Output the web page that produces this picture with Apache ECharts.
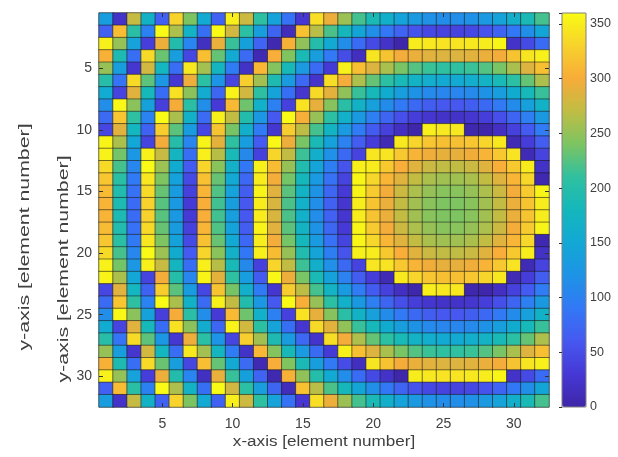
<!DOCTYPE html>
<html><head><meta charset="utf-8">
<script src="https://cdn.jsdelivr.net/npm/echarts@6/dist/echarts.min.js"></script>
<style>html,body{margin:0;padding:0;background:#fff}#c{width:618px;height:457px}</style>
</head><body><div id="c"></div>
<script>
// categories (element numbers)
const xCategories = [1,2,3,4,5,6,7,8,9,10,11,12,13,14,15,16,17,18,19,20,21,22,23,24,25,26,27,28,29,30,31,32];
const yCategories = [1,2,3,4,5,6,7,8,9,10,11,12,13,14,15,16,17,18,19,20,21,22,23,24,25,26,27,28,29,30,31,32];
const xTickLabels = [5,10,15,20,25,30];
const yTickLabels = [5,10,15,20,25,30];
const colorbarTicks = [0,50,100,150,200,250,300,350];

// phase values [deg], one array per row (row 1 at top), columns 1..32
const row01 = [135,22,273,168,68,331,240,152,69,351,277,208,143,84,29,339,294,254,218,188,163,143,128,118,113,113,118,128,143,163,188,218];
const row02 = [68,314,205,100,359,262,170,82,359,280,206,136,72,12,317,267,221,181,146,116,90,70,55,45,40,40,45,55,70,90,116,146];
const row03 = [352,251,141,35,294,197,104,16,292,213,139,70,5,305,249,199,154,113,78,47,22,2,350,346,343,343,346,350,356,22,47,78];
const row04 = [305,191,81,335,233,136,43,315,231,152,77,7,302,242,187,136,91,50,15,344,319,298,293,288,285,285,288,293,298,319,344,352];
const row05 = [251,136,26,279,177,80,347,258,174,94,20,310,244,184,128,78,32,352,316,285,260,239,224,214,209,209,214,224,239,260,285,316];
const row06 = [201,86,335,228,126,28,295,206,122,42,327,257,191,131,75,24,338,298,262,231,206,185,170,160,154,154,160,170,185,206,231,262];
const row07 = [155,40,288,182,79,341,247,158,74,354,279,208,143,82,26,335,289,249,213,182,156,136,120,110,105,105,110,120,136,156,182,213];
const row08 = [113,358,247,140,37,299,205,115,31,311,235,165,99,38,342,291,245,204,168,138,112,91,76,66,60,60,66,76,91,112,138,168];
const row09 = [77,321,209,102,359,261,167,77,352,272,197,126,60,359,303,252,206,165,129,98,72,52,36,26,21,21,26,36,52,72,98,129];
const row10 = [44,288,177,69,326,227,133,44,319,238,163,92,26,325,269,218,171,130,94,63,38,17,1,351,346,346,3,1,17,38,63,94];
const row11 = [355,261,149,41,298,199,105,355,290,209,134,63,357,295,239,188,142,101,65,34,8,347,332,321,316,316,321,332,347,8,34,65];
const row12 = [353,237,125,352,274,175,81,351,266,185,109,38,332,271,215,163,117,76,40,345,343,322,307,296,291,291,296,307,322,343,9,40];
const row13 = [335,219,107,359,255,156,62,332,246,166,90,352,313,251,195,144,97,56,352,349,323,302,287,276,271,271,276,287,302,323,349,20];
const row14 = [321,205,92,345,241,142,47,317,232,151,75,350,298,237,181,130,83,41,356,334,308,287,272,261,256,256,261,272,287,308,334,5];
const row15 = [312,195,83,335,232,132,38,308,223,141,65,354,288,227,171,120,73,31,355,324,298,277,262,251,246,246,251,262,277,298,324,355];
const row16 = [307,190,78,330,226,127,32,302,217,136,60,349,283,221,165,114,68,26,350,319,293,272,257,246,241,241,246,257,272,293,319,350];
const row17 = [307,190,78,330,226,127,32,302,217,136,60,349,283,221,165,114,68,26,350,319,293,272,257,246,241,241,246,257,272,293,319,350];
const row18 = [312,195,83,335,232,132,38,308,223,141,65,354,288,227,171,120,73,31,355,324,298,277,262,251,246,246,251,262,277,298,324,355];
const row19 = [321,205,92,345,241,142,47,317,232,151,75,350,298,237,181,130,83,41,356,334,308,287,272,261,256,256,261,272,287,308,334,5];
const row20 = [335,219,107,359,255,156,62,332,246,166,90,352,313,251,195,144,97,56,352,349,323,302,287,276,271,271,276,287,302,323,349,20];
const row21 = [353,237,125,352,274,175,81,351,266,185,109,38,332,271,215,163,117,76,40,345,343,322,307,296,291,291,296,307,322,343,9,40];
const row22 = [355,261,149,41,298,199,105,355,290,209,134,63,357,295,239,188,142,101,65,34,8,347,332,321,316,316,321,332,347,8,34,65];
const row23 = [44,288,177,69,326,227,133,44,319,238,163,92,26,325,269,218,171,130,94,63,38,17,1,351,346,346,3,1,17,38,63,94];
const row24 = [77,321,209,102,359,261,167,77,352,272,197,126,60,359,303,252,206,165,129,98,72,52,36,26,21,21,26,36,52,72,98,129];
const row25 = [113,358,247,140,37,299,205,115,31,311,235,165,99,38,342,291,245,204,168,138,112,91,76,66,60,60,66,76,91,112,138,168];
const row26 = [155,40,288,182,79,341,247,158,74,354,279,208,143,82,26,335,289,249,213,182,156,136,120,110,105,105,110,120,136,156,182,213];
const row27 = [201,86,335,228,126,28,295,206,122,42,327,257,191,131,75,24,338,298,262,231,206,185,170,160,154,154,160,170,185,206,231,262];
const row28 = [251,136,26,279,177,80,347,258,174,94,20,310,244,184,128,78,32,352,316,285,260,239,224,214,209,209,214,224,239,260,285,316];
const row29 = [305,191,81,335,233,136,43,315,231,152,77,7,302,242,187,136,91,50,15,344,319,298,293,288,285,285,288,293,298,319,344,352];
const row30 = [352,251,141,35,294,197,104,16,292,213,139,70,5,305,249,199,154,113,78,47,22,2,350,346,343,343,346,350,356,22,47,78];
const row31 = [68,314,205,100,359,262,170,82,359,280,206,136,72,12,317,267,221,181,146,116,90,70,55,45,40,40,45,55,70,90,116,146];
const row32 = [135,22,273,168,68,331,240,152,69,351,277,208,143,84,29,339,294,254,218,188,163,143,128,118,113,113,118,128,143,163,188,218];

const rows = [row01,row02,row03,row04,row05,row06,row07,row08,row09,row10,row11,row12,row13,row14,row15,row16,
              row17,row18,row19,row20,row21,row22,row23,row24,row25,row26,row27,row28,row29,row30,row31,row32];

const cells = [];
rows.forEach((row, r) => row.forEach((v, c) => cells.push([c, r, v])));

const parula = ['#3e26a8','#4638d5','#4658f0','#3278f6','#1e93e6','#12a8d5','#14b7bc','#2fc0a0','#7cc462','#bfbd44','#f8ab39','#f7d22c','#f9fb14'];
const FONT = '"Liberation Sans", Arial, Helvetica, sans-serif';
const TXT = '#404040';

const xShow = (i, v) => xTickLabels.indexOf(Number(v)) >= 0;
const yShow = (i, v) => yTickLabels.indexOf(Number(v)) >= 0;

const chart = echarts.init(document.getElementById('c'), null, {renderer: 'canvas'});
chart.setOption({
  animation: false,
  backgroundColor: '#ffffff',
  textStyle: {fontFamily: FONT},
  grid: [
    {left: 99, top: 13, width: 450, height: 394, show: true, borderColor: '#a0a0a0', borderWidth: 1, backgroundColor: 'transparent', containLabel: false},
    {left: 562, top: 13, width: 24, height: 394, show: true, borderColor: '#808080', borderWidth: 1, backgroundColor: 'transparent', z: 10}
  ],
  xAxis: [
    {type: 'category', gridIndex: 0, data: xCategories, position: 'bottom', z: 5,
     axisLine: {show: false},
     axisTick: {show: true, inside: true, length: 4, alignWithLabel: true, interval: xShow, lineStyle: {color: '#333'}},
     axisLabel: {show: true, interval: xShow, fontSize: 14, color: TXT, margin: 10, fontFamily: FONT},
     splitLine: {show: false}},
    {type: 'category', gridIndex: 0, data: xCategories, position: 'top', z: 5,
     axisLine: {show: false},
     axisTick: {show: true, inside: true, length: 4, alignWithLabel: true, interval: xShow, lineStyle: {color: '#333'}},
     axisLabel: {show: false}, splitLine: {show: false}},
    {type: 'value', gridIndex: 1, min: 0, max: 1, show: false}
  ],
  yAxis: [
    {type: 'category', gridIndex: 0, data: yCategories, inverse: true, position: 'left', z: 5,
     axisLine: {show: false},
     axisTick: {show: true, inside: true, length: 4, alignWithLabel: true, interval: yShow, lineStyle: {color: '#333'}},
     axisLabel: {show: true, interval: yShow, fontSize: 14, color: TXT, margin: 7, fontFamily: FONT},
     splitLine: {show: false}},
    {type: 'category', gridIndex: 0, data: yCategories, inverse: true, position: 'right', z: 5,
     axisLine: {show: false},
     axisTick: {show: true, inside: true, length: 4, alignWithLabel: true, interval: yShow, lineStyle: {color: '#333'}},
     axisLabel: {show: false}, splitLine: {show: false}},
    {type: 'value', gridIndex: 1, min: 0, max: 360, interval: 50, position: 'right', z: 12,
     axisLine: {show: false},
     axisTick: {show: true, inside: true, length: 3, lineStyle: {color: '#333'}},
     axisLabel: {show: true, fontSize: 12.5, color: TXT, margin: 4, fontFamily: FONT,
                 formatter: v => (colorbarTicks.indexOf(v) >= 0 ? String(v) : '')},
     splitLine: {show: false}}
  ],
  visualMap: {
    type: 'continuous', min: 0, max: 360, dimension: 2, seriesIndex: 0,
    orient: 'vertical', left: 557, top: 8, padding: 5,
    itemWidth: 24, itemHeight: 394, calculable: false, hoverLink: false,
    text: null, showLabel: false,
    inRange: {color: parula}
  },
  series: [{
    type: 'heatmap', xAxisIndex: 0, yAxisIndex: 0, data: cells,
    itemStyle: {borderColor: 'rgba(25,25,25,0.55)', borderWidth: 1},
    emphasis: {disabled: true}, progressive: 0
  }],
  graphic: [
    {type: 'text', x: 324, y: 442, scaleX: 1.22, style: {text: 'x-axis [element number]', font: '14px ' + FONT, fill: TXT, align: 'center', verticalAlign: 'middle'}},
    {type: 'text', x: 25, y: 237, rotation: Math.PI / 2, scaleX: 1.52, style: {text: 'y-axis [element number]', font: '14px ' + FONT, fill: TXT, align: 'center', verticalAlign: 'middle'}},
    {type: 'text', x: 64, y: 269, rotation: Math.PI / 2, scaleX: 1.52, style: {text: 'y-axis [element number]', font: '14px ' + FONT, fill: TXT, align: 'center', verticalAlign: 'middle'}}
  ]
});
</script></body></html>
